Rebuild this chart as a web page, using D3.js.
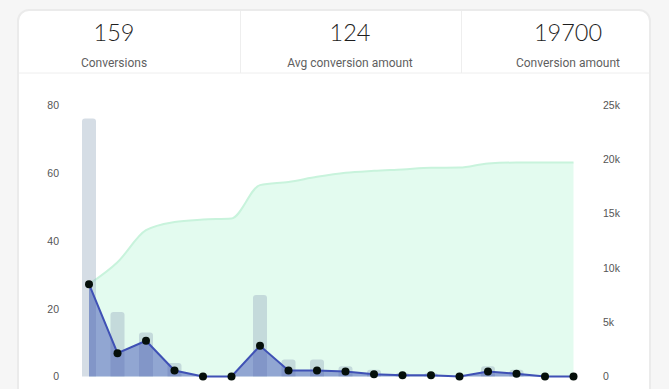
<!DOCTYPE html>
<html>
<head>
<meta charset="utf-8">
<script src="https://cdn.jsdelivr.net/npm/d3@7"></script>
<style>
  html, body { margin: 0; padding: 0; background: #f6f6f6; }
  svg { display: block; }
</style>
</head>
<body>
<svg id="chart" width="669" height="389"></svg>
<script>
// ---- data ----
const days = ["1","2","3","4","5","6","7","8","9","10","11","12","13","14","15","16","17","18"];
const conversions = [76, 19, 13, 4, 0, 0, 24, 5, 5, 3, 2, 1, 1, 0, 3, 2, 0, 0];
const amounts = [8500, 2150, 3290, 550, 0, 0, 2830, 550, 550, 460, 210, 120, 120, 0, 460, 250, 0, 0];
const cumulative = [8500, 10520, 13470, 14230, 14450, 14550, 17620, 17920, 18390, 18760, 18940, 19070, 19220, 19240, 19620, 19700, 19700, 19700];
const leftTicks = [0, 20, 40, 60, 80];
const rightTicks = [0, 5000, 10000, 15000, 20000, 25000];
const stats = [
  { value: "159", label: "Conversions" },
  { value: "124", label: "Avg conversion amount" },
  { value: "19700", label: "Conversion amount" }
];

const svg = d3.select("#chart");

// ---- card ----
svg.append("rect")
  .attr("x", 18).attr("y", 10).attr("width", 632).attr("height", 400)
  .attr("rx", 11).attr("fill", "#fff")
  .attr("stroke", "#ebebeb").attr("stroke-width", 2);

// header dividers
svg.append("line").attr("x1", 19).attr("x2", 649).attr("y1", 73).attr("y2", 73)
  .attr("stroke", "#eeeeee").attr("stroke-width", 1);
[240, 461].forEach(x => {
  svg.append("line").attr("x1", x + 0.5).attr("x2", x + 0.5).attr("y1", 11).attr("y2", 73)
    .attr("stroke", "#eeeeee").attr("stroke-width", 1);
});
const statCenters = [114, 350, 568];
stats.forEach((s, i) => {
  svg.append("text").attr("x", statCenters[i]).attr("y", 41)
    .attr("text-anchor", "middle")
    .attr("font-family", "Lato, 'Open Sans', sans-serif").attr("font-weight", 300)
    .attr("font-size", 23.5).attr("fill", "#1e1e1e")
    .text(s.value);
  svg.append("text").attr("x", statCenters[i]).attr("y", 67)
    .attr("text-anchor", "middle")
    .attr("font-family", "Roboto, sans-serif")
    .attr("font-size", 12).attr("fill", "#5f5f5f")
    .text(s.label);
});

// ---- scales ----
const x = d3.scalePoint().domain(days).range([89, 573.5]);
const yL = d3.scaleLinear().domain([0, 80]).range([376.5, 105]);
const yR = d3.scaleLinear().domain([0, 25000]).range([376.5, 105]);
const barW = 14;

const g = svg.append("g");

// cumulative green area
const areaCum = d3.area().x((d, i) => x(days[i])).y0(yR(0)).y1(d => yR(d)).curve(d3.curveMonotoneX);
const lineCum = d3.line().x((d, i) => x(days[i])).y(d => yR(d)).curve(d3.curveMonotoneX);
g.append("path").datum(cumulative).attr("d", areaCum).attr("fill", "#e3fbef");
g.append("path").datum(cumulative).attr("d", lineCum).attr("fill", "none")
  .attr("stroke", "#c8f3dc").attr("stroke-width", 2);

// bars
function topRounded(x0, y0, w, h, r) {
  r = Math.min(r, h, w / 2);
  return `M${x0},${y0 + h}V${y0 + r}Q${x0},${y0} ${x0 + r},${y0}H${x0 + w - r}Q${x0 + w},${y0} ${x0 + w},${y0 + r}V${y0 + h}Z`;
}
g.selectAll("path.bar").data(conversions).join("path").attr("class", "bar")
  .attr("d", (d, i) => {
    const y0 = yL(d), h = yL(0) - y0;
    if (h <= 0) return null;
    return topRounded(x(days[i]) - barW / 2, y0, barW, h, 3);
  })
  .attr("fill", "rgba(150,170,190,0.4)");

// daily amount area + line
const areaAmt = d3.area().x((d, i) => x(days[i])).y0(yR(0)).y1(d => yR(d));
const lineAmt = d3.line().x((d, i) => x(days[i])).y(d => yR(d));
g.append("path").datum(amounts).attr("d", areaAmt).attr("fill", "rgba(63,81,181,0.5)");
g.append("path").datum(amounts).attr("d", lineAmt).attr("fill", "none")
  .attr("stroke", "#3f51b5").attr("stroke-width", 2);
g.selectAll("circle.pt").data(amounts).join("circle").attr("class", "pt")
  .attr("cx", (d, i) => x(days[i])).attr("cy", d => yR(d)).attr("r", 4)
  .attr("fill", "#050f0a");

// ---- axes ----
const axL = svg.append("g").attr("transform", "translate(59,0)")
  .call(d3.axisLeft(yL).tickValues(leftTicks).tickSize(0).tickPadding(0));
const axR = svg.append("g").attr("transform", "translate(603,0)")
  .call(d3.axisRight(yR).tickValues(rightTicks).tickSize(0).tickPadding(0)
    .tickFormat(d => d === 0 ? "0" : (d / 1000) + "k"));
[axL, axR].forEach(a => {
  a.select(".domain").remove();
  a.selectAll("text").attr("font-family", "'Liberation Sans', Arial, sans-serif")
    .attr("font-size", 10.5).attr("fill", "#555");
});
</script>
</body>
</html>
